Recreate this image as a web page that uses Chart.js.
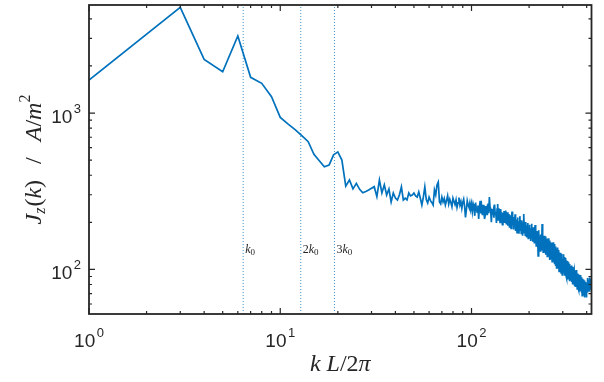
<!DOCTYPE html>
<html><head><meta charset="utf-8">
<script src="https://cdn.jsdelivr.net/npm/chart.js@4"></script>
<style>html,body{margin:0;padding:0;background:#fff}#wrap{width:604px;height:382px}</style>
</head><body><div id="wrap"><canvas id="c" width="604" height="382"></canvas></div>
<script>
// ---- data ----
const kLow = [1,3,4,5,6,7,8,9,10,11,12,13,14,15,16,17,18,19,20,21,22,23,24,25,26,27,28,29,30,31,32,33,34,35,36,37,38,39,40,41,42,43,44,45,46,47,48,49,50,51,52,53,54,55,56,57,58,59,60,61,62,63,64,65,66,67,68];
const jzLow = [1625,4745,2203,1837,3112,1692,1549,1272,938,
  850,780,715,655,545,495,453,464,540,564,
  500,341,373,327,355,325,309,315,322,330,
  338,292,373,308,347,299,327,270,308,286,
  278,300,337,278,285,278,308,295,299,308,
  295,290,313,285,258,290,337,280,266,290,
  275,268,258,322,300,347,362,270];
const kHighStart = 69; // integer wavenumbers 69..424
const jzHigh = [262,290,270,284,258,276,296,262,281,268,
  252,285,272,260,278,249,266,288,258,271,
  246,268,281,254,215,240,274,258,249,266,
  242,262,
  234,262,249,220,267,243,232,256,210,250,
  274,228,250,222,259,236,210,254,232,243,
  222,264,229,290,248,234,200,243,224,237,
  214,260,225,232,198,243,262,207,246,217,
  200,243,218,232,193,229,210,236,198,220,
  238,196,218,232,190,226,207,185,222,200,
  183,220,234,193,208,180,216,198,225,176,
  208,195,172,215,190,203,169,200,219,178,
  198,170,206,186,164,200,178,226,172,189,
  165,201,181,160,191,176,198,158,185,170,
  193,165,183,152,178,196,159,172,150,186,
  168,181,148,173,192,154,166,141,176,159,
  144,175,122,158,178,141,162,151,131,167,
  150,163,132,195,147,160,129,153,140,164,
  128,154,142,162,124,149,135,157,121,146,
  136,158,122,146,133,153,115,141,127,149,
  117,140,148,112,136,125,149,111,131,122,
  145,108,130,119,140,105,128,136,101,124,
  118,138,101,124,116,133,97,120,111,128,
  98,121,127,95,118,107,126,92,113,104,
  117,103,125,94,112,106,120,91,109,100,
  118,91,106,114,88,104,98,113,86,103,
  97,111,86,101,95,108,84,100,92,105,
  85,101,106,83,97,92,104,80,95,88,
  103,80,94,98,78,92,87,98,77,91,
  87,99,77,91,85,97,75,89,82,94,
  76,89,93,74,86,82,92,72,85,79,
  92,73,84,89,71,83,78,88,68,82,
  77,87,71,81,76,86,70,80,66,79,
  85,72,80,75,83,69,79,74,82,66,
  80,74,85,71,79,88,73,82,76,86,
  74,80,89,72,83,77,86,75,81,87,
  74,83,78,86];
const harmonicK = [6.4, 12.8, 19.2];
const harmonicPrefix = ['', '2', '3'];
const xMajorTicks = [1, 10, 100];
const yMajorTicks = [100, 1000];
const xRange = [1, 424];
const yRange = [51.8, 4910];

// ---- build points ----
const mainPts = kLow.map((k, i) => ({x: k, y: jzLow[i]}))
  .concat(jzHigh.map((v, i) => ({x: kHighStart + i, y: v})));
const vDatasets = harmonicK.map(h => ({
  data: [{x: h, y: yRange[0]}, {x: h, y: yRange[1]}],
  borderColor: 'rgba(0,114,189,0.75)', borderWidth: 1, borderDash: [1, 2],
  pointRadius: 0, fill: false
}));

const AX = '#262626';
const SANS = '"Liberation Sans", Arial, sans-serif';
const SERIF = '"Liberation Serif", "Times New Roman", serif';

function minorsFor(min, max) {
  const out = [];
  for (let d = Math.pow(10, Math.floor(Math.log10(min))); d <= max; d *= 10)
    for (let m = 2; m <= 9; m++) { const v = m * d; if (v > min && v < max) out.push(v); }
  return out;
}
function drawPieces(ctx, pieces, x, y) {
  let cx = x;
  for (const p of pieces) {
    if (p.gap) { cx += p.gap; continue; }
    ctx.font = p.font;
    ctx.fillText(p.t, cx, y + (p.dy || 0));
    cx += ctx.measureText(p.t).width;
  }
  return cx - x;
}
function piecesWidth(ctx, pieces) {
  let w = 0;
  for (const p of pieces) {
    if (p.gap) { w += p.gap; continue; }
    ctx.font = p.font; w += ctx.measureText(p.t).width;
  }
  return w;
}
function powLabel(exp) {
  return [{t: '10', font: '19px ' + SANS}, {gap: 1.5}, {t: String(exp), font: '13px ' + SANS, dy: -10}];
}

const decor = {
  id: 'decor',
  afterDraw(chart) {
    const {ctx, chartArea: a} = chart;
    const xs = chart.scales.x, ys = chart.scales.y;
    ctx.save();
    ctx.fillStyle = AX; ctx.strokeStyle = AX;
    // ticks
    ctx.lineWidth = 1.2;
    const xMin = minorsFor(xRange[0], xRange[1]);
    const yMin = minorsFor(yRange[0], yRange[1]);
    const xt = xMajorTicks.map(v => [v, 6]).concat(xMin.map(v => [v, 3]));
    const yt = yMajorTicks.map(v => [v, 6]).concat(yMin.map(v => [v, 3]));
    ctx.beginPath();
    for (const [v, L] of xt) {
      const p = xs.getPixelForValue(v);
      ctx.moveTo(p, a.bottom); ctx.lineTo(p, a.bottom - L);
      ctx.moveTo(p, a.top); ctx.lineTo(p, a.top + L);
    }
    for (const [v, L] of yt) {
      const p = ys.getPixelForValue(v);
      ctx.moveTo(a.left, p); ctx.lineTo(a.left + L, p);
      ctx.moveTo(a.right, p); ctx.lineTo(a.right - L, p);
    }
    ctx.stroke();
    // frame
    ctx.lineWidth = 1.8;
    ctx.strokeRect(a.left, a.top, a.right - a.left, a.bottom - a.top);
    // tick labels
    ctx.textBaseline = 'alphabetic'; ctx.textAlign = 'left';
    for (const v of xMajorTicks) {
      const pcs = powLabel(Math.round(Math.log10(v)));
      const w = piecesWidth(ctx, pcs);
      drawPieces(ctx, pcs, xs.getPixelForValue(v) - w / 2, 347);
    }
    for (const v of yMajorTicks) {
      const pcs = powLabel(Math.round(Math.log10(v)));
      const w = piecesWidth(ctx, pcs);
      drawPieces(ctx, pcs, 81 - w, ys.getPixelForValue(v) + 10);
    }
    // x title
    const it = 'italic 24px ' + SERIF, rm = '24px ' + SERIF;
    const xt2 = [{t: 'k', font: it}, {gap: 6}, {t: 'L', font: it}, {t: '/', font: rm}, {t: '2', font: rm}, {t: 'π', font: it}];
    const xw = piecesWidth(ctx, xt2);
    drawPieces(ctx, xt2, (a.left + a.right) / 2 - xw / 2, 371);
    // y title
    const yt2 = [{t: 'J', font: it}, {t: 'z', font: 'italic 16px ' + SERIF, dy: 4}, {gap: 1},
      {t: '(', font: rm}, {t: 'k', font: it}, {t: ')', font: rm}, {gap: 16}, {t: '/', font: rm}, {gap: 16},
      {t: 'A', font: it}, {t: '/', font: rm}, {t: 'm', font: it}, {t: '2', font: '16px ' + SERIF, dy: -11}];
    const yw = piecesWidth(ctx, yt2);
    ctx.save();
    ctx.translate(41, (a.top + a.bottom) / 2);
    ctx.rotate(-Math.PI / 2);
    drawPieces(ctx, yt2, -yw / 2, 0);
    ctx.restore();
    // harmonic labels
    harmonicK.forEach((h, i) => {
      const px = xs.getPixelForValue(h) + 2;
      const pcs = [];
      if (harmonicPrefix[i]) pcs.push({t: harmonicPrefix[i], font: '12px ' + SERIF});
      pcs.push({t: 'k', font: 'italic 12px ' + SERIF});
      pcs.push({t: '0', font: '9px ' + SERIF, dy: 2});
      drawPieces(ctx, pcs, px, 253);
    });
    ctx.restore();
  }
};

new Chart(document.getElementById('c'), {
  type: 'line',
  data: {
    datasets: [{
      data: mainPts, borderColor: '#0072BD', borderWidth: 1.7,
      pointRadius: 0, fill: false, tension: 0
    }].concat(vDatasets)
  },
  options: {
    responsive: false, animation: false, devicePixelRatio: 1,
    layout: {padding: {left: 89, right: 12.5, top: 5, bottom: 68}},
    plugins: {legend: {display: false}, tooltip: {enabled: false}},
    scales: {
      x: {type: 'logarithmic', min: xRange[0], max: xRange[1], display: false},
      y: {type: 'logarithmic', min: yRange[0], max: yRange[1], display: false}
    }
  },
  plugins: [decor]
});
</script></body></html>
